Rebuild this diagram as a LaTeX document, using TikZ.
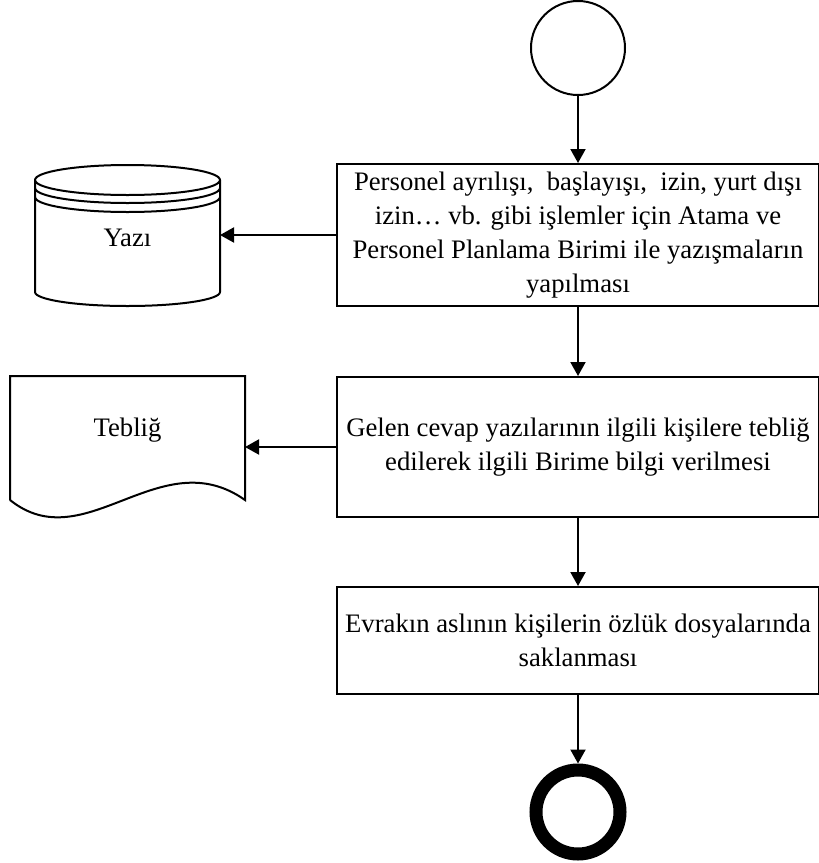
\documentclass[tikz,border=0pt]{standalone}
\usepackage{fontspec}
\setmainfont{Liberation Serif}
\usetikzlibrary{arrows.meta}

\begin{document}
\begin{tikzpicture}[x=1pt, y=-1pt, >={Triangle[length=14pt, width=15pt]},
    every node/.style={font=\fontsize{26.7}{34}\selectfont},
    process/.style={draw, line width=2pt, minimum width=482pt, align=center, inner sep=0pt},
    flow/.style={->, line width=2pt}]
    \useasboundingbox (0,0) rectangle (819,863);

    % Start and end
    \node[draw, circle, line width=2pt, minimum size=94pt, inner sep=0pt] (start) at (578,48) {};
    \node[draw, circle, line width=13pt, minimum size=84pt, inner sep=0pt, outer sep=6.5pt] (stop) at (578,812) {};

    % Process boxes
    \node[process, minimum height=142pt] (yazisma) at (578,235)
        {Personel ayrılışı,\ \ başlayışı,\ \ izin, yurt dışı\\
         izin… vb. gibi işlemler için Atama ve\\
         Personel Planlama Birimi ile yazışmaların\\
         yapılması};
    \node[process, minimum height=140pt] (bildirim) at (578,447)
        {Gelen cevap yazılarının ilgili kişilere tebliğ\\
         edilerek ilgili Birime bilgi verilmesi};
    \node[process, minimum height=107pt] (saklama) at (578,640.5)
        {Evrakın aslının kişilerin özlük dosyalarında\\
         saklanması};

    % Stored data: Yazi
    \draw[line width=2pt] (35,180) arc[start angle=180, end angle=-180, x radius=92.5, y radius=15];
    \draw[line width=2pt] (35,188) arc[start angle=180, end angle=0, x radius=92.5, y radius=15];
    \draw[line width=2pt] (35,197) arc[start angle=180, end angle=0, x radius=92.5, y radius=15];
    \draw[line width=2pt] (35,180) -- (35,292) arc[start angle=180, end angle=0, x radius=92.5, y radius=14] -- (220,180);
    \node (yazi) at (127.5,238) {Yazı};
    \coordinate (yaziR) at (220,235);

    % Document: Teblig
    \draw[line width=2pt] (10,500) -- (10,376) -- (245,376) -- (245,500)
        .. controls (160,440) and (85,560) .. (10,500);
    \node (teblig) at (127.5,430) {Tebliğ};
    \coordinate (tebligR) at (245,447);

    % Arrows
    \draw[flow] (start) -- (yazisma);
    \draw[flow] (yazisma) -- (bildirim);
    \draw[flow] (bildirim) -- (saklama);
    \draw[flow] (saklama) -- (stop);
    \draw[flow] (yazisma.west) -- (yaziR);
    \draw[flow] (bildirim.west) -- (tebligR);
\end{tikzpicture}
\end{document}
